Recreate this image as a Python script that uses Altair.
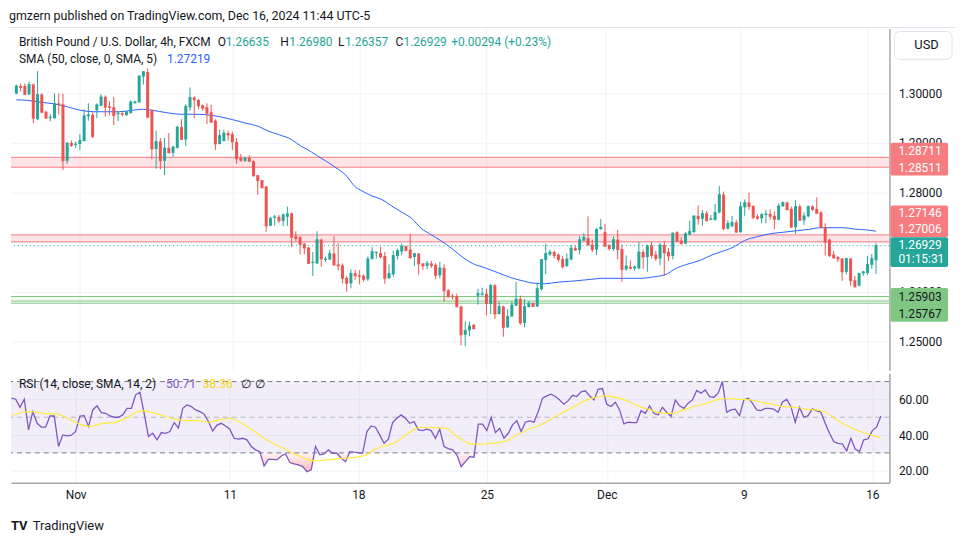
import altair as alt
import pandas as pd

# ---------------- data ----------------
opens = [1.3000,1.3015,1.3015,1.2998,1.3018,1.2948,1.2998,1.2963,1.2950,1.2950,
1.2980,1.2978,1.2864,1.2900,1.2896,1.2898,1.2904,1.2954,1.2957,1.2966,
1.2975,1.2993,1.2974,1.2972,1.2958,1.2960,1.2956,1.2960,1.2980,1.2982,
1.3034,1.3043,1.2966,1.2888,1.2903,1.2864,1.2890,1.2880,1.2890,1.2932,
1.2907,1.2972,1.2992,1.2987,1.2976,1.2972,1.2962,1.2945,1.2898,1.2904,
1.2920,1.2918,1.2902,1.2870,1.2864,1.2870,1.2863,1.2835,1.2825,1.2812,
1.2733,1.2749,1.2751,1.2743,1.2751,1.2758,1.2712,1.2710,1.2697,1.2689,
1.2658,1.2657,1.2705,1.2664,1.2665,1.2677,1.2655,1.2653,1.2628,1.2617,
1.2637,1.2633,1.2632,1.2625,1.2666,1.2678,1.2678,1.2672,1.2627,1.2635,
1.2672,1.2681,1.2692,1.2685,1.2670,1.2677,1.2657,1.2652,1.2657,1.2654,
1.2633,1.2648,1.2603,1.2592,1.2591,1.2570,1.2513,1.2522,1.2533,1.2592,
1.2594,1.2596,1.2575,1.2613,1.2555,1.2570,1.2528,1.2550,1.2572,1.2585,
1.2537,1.2569,1.2577,1.2570,1.2605,1.2664,1.2675,1.2680,1.2675,1.2666,
1.2652,1.2665,1.2688,1.2684,1.2703,1.2708,1.2695,1.2685,1.2726,1.2720,
1.2694,1.2686,1.2705,1.2686,1.2645,1.2650,1.2647,1.2647,1.2680,1.2670,
1.2693,1.2675,1.2667,1.2694,1.2680,1.2672,1.2720,1.2703,1.2697,1.2715,
1.2720,1.2753,1.2747,1.2758,1.2745,1.2745,1.2760,1.2796,1.2727,1.2732,
1.2740,1.2720,1.2770,1.2780,1.2773,1.2752,1.2748,1.2755,1.2757,1.2753,
1.2745,1.2772,1.2780,1.2767,1.2730,1.2772,1.2744,1.2752,1.2772,1.2767,
1.2760,1.2730,1.2705,1.2675,1.2670,1.2667,1.2640,1.2667,1.2623,1.2612,
1.2637,1.2638,1.2654,1.26635]

highs = [1.3018,1.3020,1.3020,1.3024,1.3020,1.3045,1.3000,1.2965,1.2958,1.3000,
1.3000,1.2999,1.2901,1.2905,1.2903,1.2918,1.2968,1.2980,1.2962,1.2980,
1.2999,1.2996,1.2984,1.2993,1.2964,1.2962,1.2965,1.2986,1.2985,1.3037,
1.3045,1.3050,1.2968,1.2925,1.2910,1.2910,1.2920,1.2894,1.2935,1.2948,
1.2978,1.3012,1.2994,1.2988,1.2978,1.2980,1.2977,1.2948,1.2927,1.2927,
1.2925,1.2923,1.2910,1.2878,1.2872,1.2875,1.2865,1.2835,1.2825,1.2813,
1.2751,1.2755,1.2755,1.2758,1.2772,1.2760,1.2722,1.2712,1.2698,1.2690,
1.2680,1.2722,1.2707,1.2671,1.2685,1.2712,1.2698,1.2657,1.2632,1.2645,
1.2644,1.2643,1.2635,1.2671,1.2690,1.2680,1.2690,1.2680,1.2655,1.2683,
1.2687,1.2697,1.2693,1.2717,1.2677,1.2678,1.2657,1.2662,1.2662,1.2658,
1.2660,1.2655,1.2605,1.2596,1.2596,1.2572,1.2540,1.2540,1.2535,1.2606,
1.2608,1.2606,1.2615,1.2615,1.2580,1.2572,1.2565,1.2581,1.2620,1.2592,
1.2585,1.2581,1.2578,1.2618,1.2666,1.2697,1.2685,1.2683,1.2677,1.2672,
1.2677,1.2695,1.2693,1.2712,1.2718,1.2752,1.2705,1.2728,1.2747,1.2737,
1.2696,1.2712,1.2725,1.2695,1.2673,1.2663,1.2653,1.2700,1.2685,1.2695,
1.2700,1.2682,1.2698,1.2702,1.2688,1.2720,1.2722,1.2710,1.2720,1.2743,
1.2753,1.2774,1.2765,1.2763,1.2755,1.2777,1.2813,1.2802,1.2744,1.2753,
1.2745,1.2782,1.2786,1.2800,1.2774,1.2756,1.2758,1.2765,1.2766,1.2762,
1.2778,1.2782,1.2782,1.2772,1.2784,1.2776,1.2760,1.2774,1.2774,1.2790,
1.2763,1.2738,1.2707,1.2682,1.2672,1.2667,1.2668,1.2667,1.2632,1.2638,
1.2642,1.2672,1.2676,1.26980]

lows = [1.2998,1.3004,1.2997,1.2997,1.2940,1.2946,1.2960,1.2949,1.2944,1.2949,
1.2958,1.2846,1.2858,1.2892,1.2890,1.2886,1.2903,1.2945,1.2910,1.2950,
1.2974,1.2953,1.2956,1.2936,1.2944,1.2954,1.2955,1.2960,1.2980,1.2981,
1.3018,1.2950,1.2867,1.2848,1.2847,1.2835,1.2879,1.2872,1.2889,1.2906,
1.2894,1.2965,1.2950,1.2968,1.2965,1.2938,1.2941,1.2886,1.2897,1.2903,
1.2905,1.2886,1.2858,1.2862,1.2862,1.2862,1.2832,1.2796,1.2808,1.2721,
1.2732,1.2733,1.2738,1.2732,1.2733,1.2690,1.2702,1.2675,1.2676,1.2656,
1.2632,1.2656,1.2650,1.2660,1.2664,1.2652,1.2643,1.2617,1.2600,1.2607,
1.2624,1.2615,1.2620,1.2622,1.2665,1.2667,1.2667,1.2616,1.2626,1.2630,
1.2665,1.2674,1.2682,1.2667,1.2652,1.2634,1.2644,1.2645,1.2648,1.2625,
1.2627,1.2580,1.2588,1.2584,1.2568,1.2492,1.2490,1.2510,1.2524,1.2574,
1.2592,1.2552,1.2555,1.2545,1.2554,1.2509,1.2527,1.2549,1.2571,1.2533,
1.2528,1.2568,1.2570,1.2569,1.2602,1.2635,1.2672,1.2667,1.2660,1.2647,
1.2650,1.2663,1.2682,1.2675,1.2702,1.2693,1.2680,1.2674,1.2725,1.2690,
1.2683,1.2682,1.2665,1.2620,1.2642,1.2645,1.2642,1.2645,1.2646,1.2640,
1.2667,1.2662,1.2653,1.2632,1.2662,1.2665,1.2700,1.2695,1.2696,1.2714,
1.2719,1.2735,1.2733,1.2742,1.2745,1.2743,1.2758,1.2724,1.2726,1.2730,
1.2719,1.2719,1.2753,1.2765,1.2746,1.2745,1.2738,1.2738,1.2745,1.2726,
1.2744,1.2772,1.2765,1.2729,1.2716,1.2743,1.2735,1.2750,1.2763,1.2757,
1.2728,1.2673,1.2670,1.2667,1.2660,1.2622,1.2635,1.2612,1.2608,1.2611,
1.2632,1.2633,1.2646,1.26357]

closes = [1.3015,1.3012,1.2998,1.3018,1.2950,1.2998,1.2962,1.2950,1.2952,1.2980,
1.2977,1.2864,1.2900,1.2895,1.2898,1.2905,1.2955,1.2957,1.2913,1.2977,
1.2993,1.2972,1.2972,1.2955,1.2960,1.2958,1.2963,1.2983,1.2983,1.3035,
1.3044,1.2952,1.2888,1.2903,1.2864,1.2890,1.2880,1.2892,1.2932,1.2907,
1.2974,1.2992,1.2987,1.2975,1.2970,1.2960,1.2942,1.2898,1.2915,1.2920,
1.2916,1.2902,1.2868,1.2865,1.2870,1.2863,1.2834,1.2824,1.2810,1.2733,
1.2748,1.2751,1.2743,1.2755,1.2757,1.2710,1.2707,1.2695,1.2688,1.2657,
1.2660,1.2705,1.2666,1.2666,1.2677,1.2654,1.2652,1.2627,1.2617,1.2637,
1.2632,1.2631,1.2625,1.2666,1.2681,1.2680,1.2670,1.2627,1.2637,1.2673,
1.2683,1.2692,1.2683,1.2668,1.2677,1.2656,1.2652,1.2657,1.2653,1.2633,
1.2648,1.2602,1.2590,1.2590,1.2570,1.2513,1.2522,1.2531,1.2525,1.2596,
1.2596,1.2576,1.2613,1.2555,1.2570,1.2528,1.2550,1.2573,1.2585,1.2537,
1.2570,1.2577,1.2570,1.2606,1.2665,1.2677,1.2680,1.2673,1.2665,1.2650,
1.2666,1.2688,1.2684,1.2705,1.2710,1.2694,1.2685,1.2726,1.2730,1.2692,
1.2687,1.2705,1.2685,1.2645,1.2652,1.2647,1.2650,1.2680,1.2670,1.2693,
1.2673,1.2667,1.2694,1.2678,1.2672,1.2718,1.2702,1.2697,1.2717,1.2722,
1.2753,1.2747,1.2758,1.2743,1.2747,1.2760,1.2796,1.2727,1.2738,1.2740,
1.2720,1.2772,1.2780,1.2772,1.2750,1.2748,1.2756,1.2757,1.2752,1.2746,
1.2773,1.2780,1.2765,1.2730,1.2772,1.2744,1.2753,1.2772,1.2766,1.2758,
1.2730,1.2700,1.2673,1.2668,1.2666,1.2640,1.2667,1.2622,1.2610,1.2637,
1.2640,1.2655,1.2667,1.26929]

rsi_values = [60.7,60.1,55.6,60.1,42.9,53.2,46.6,44.4,44.4,50.7,
50.7,33.6,40.1,39.5,39.9,42.0,50.7,50.9,44.8,54.1,
56.4,52.6,52.2,50.7,50.0,50.0,51.3,55.0,55.0,62.5,
64.0,52.0,39.2,41.0,37.3,41.4,41.0,42.0,47.0,44.0,
55.0,56.9,56.0,54.1,53.2,51.7,47.6,42.3,45.6,46.6,
45.1,43.3,38.2,37.7,38.2,37.3,33.6,31.7,30.7,22.7,
26.4,26.4,26.1,28.3,29.4,24.6,23.8,23.3,22.3,19.5,
20.5,33.6,28.9,29.4,31.7,29.8,29.8,27.0,25.1,30.7,
30.4,30.2,29.8,42.0,45.1,44.4,40.1,35.4,37.7,47.0,
49.4,51.3,49.4,46.6,47.6,42.9,42.5,43.3,42.5,38.2,
43.3,33.6,32.4,31.7,28.9,22.3,25.1,27.9,27.6,46.1,
46.1,42.5,50.0,41.4,43.8,38.2,41.0,45.7,48.1,42.0,
47.2,47.9,47.2,53.2,60.7,62.0,62.9,61.6,59.7,57.3,
59.3,62.3,61.6,64.2,64.8,62.0,59.7,65.7,66.1,57.3,
56.0,58.4,54.1,46.3,47.2,47.0,47.0,53.6,52.2,56.4,
52.2,51.3,55.6,52.8,50.4,59.7,56.4,55.0,57.9,59.7,
65.0,63.5,65.3,61.6,61.2,63.5,70.0,52.8,54.1,54.5,
50.9,59.7,60.7,57.9,54.1,53.7,55.0,55.0,54.5,52.8,
58.4,60.1,56.0,47.2,55.6,50.0,50.9,54.7,53.6,52.8,
46.6,41.0,36.4,35.4,35.0,31.1,38.2,32.1,30.7,37.3,
37.9,42.5,44.4,50.71]

sma_x = [0,2.7,5.8,8.9,12,15.1,18.2,21.2,24.3,27.4,29.7,32.1,35.6,38.7,41.8,44.9,48,51.1,54.2,57.3,
59.2,61.9,65,67.3,68.5,70.9,73.2,75.5,77.8,80.1,81.7,84,86.3,88.6,90.9,93.3,95.6,97.9,100.2,103,
105.3,107.7,110.7,113.8,116.9,120,122.3,124.7,127.7,130.8,135.9,138.3,142.9,147.5,150.6,153.7,155.3,158.3,161.4,164.5,
167.3,169.6,171.9,175,178.1,181.2,184.3,187.4,189.7,192.1,195.1,196.7,198.2,200.5,203]
sma_y = [1.2987,1.2986,1.2982,1.2979,1.2973,1.2966,1.2963,1.2963,1.2963,1.2966,1.2968,1.2966,1.2961,1.2958,1.2958,1.2957,1.2953,1.2947,1.2940,1.2933,
1.2925,1.2917,1.2907,1.2893,1.2888,1.2875,1.2863,1.2850,1.2835,1.2811,1.2803,1.2793,1.2786,1.2773,1.2761,1.2748,1.2728,1.2715,1.2703,1.2686,
1.2670,1.2657,1.2648,1.2638,1.2628,1.2621,1.2617,1.2616,1.2619,1.2621,1.2625,1.2627,1.2627,1.2627,1.2630,1.2636,1.2645,1.2655,1.2663,1.2675,
1.2683,1.2691,1.2703,1.2711,1.2717,1.2720,1.2723,1.2726,1.2729,1.2729,1.2729,1.2728,1.2726,1.2725,1.27219]

rsi_sma_x = [0,2.7,4.6,7.3,10.4,13.1,15.8,18.5,21.2,24,26.7,29,30.5,33.6,37.5,40.6,43.7,46,49.1,51.4,
53.7,56.8,59.9,63,66.1,69.2,70.7,73.8,76.9,80.8,82.7,84.6,86.9,89.3,91.6,93.9,95.4,98.5,101.6,103.6,
105.6,107.5,110.6,112.1,115.2,117.5,120.6,123,126,129.1,131.5,133.8,136.1,138.4,141.5,143.8,146.1,149.2,152.3,154.6,
157,159.3,162.4,164.7,167,169.3,172.4,175.5,177.8,180.1,183.2,185.5,187.9,189.8,192.5,194.8,197.9,200.2,203]
rsi_sma_y = [50.7,52.8,53.2,52.2,51.9,49.4,46.3,44.8,46.6,47.0,49.4,52.6,53.7,52.2,49.4,48.1,48.1,47.2,48.9,49.3,
46.6,42.0,36.9,33.2,29.4,26.4,25.5,26.1,26.8,27.6,28.9,31.7,33.9,35.4,39.2,42.9,44.4,44.2,43.8,40.1,
36.9,34.9,35.0,35.4,36.4,39.2,43.3,45.1,48.9,53.2,56.0,59.2,61.0,62.0,61.0,59.2,56.5,54.1,52.2,52.2,
54.1,56.0,57.9,59.7,60.5,60.1,59.7,58.2,57.3,56.0,55.6,54.5,54.1,53.2,48.9,45.7,42.3,40.5,38.36]

tick_index = [15, 51, 81, 111, 139, 171, 201]
tick_text = ["Nov", "11", "18", "25", "Dec", "9", "16"]
price_ticks = [1.25, 1.26, 1.27, 1.28, 1.29, 1.30]
hidden_price_labels = [1.27]
rsi_ticks = [20, 40, 60]
red_zone_low = [1.28511, 1.27006]
red_zone_high = [1.28711, 1.27146]
green_zone_low = [1.25810]
green_zone_high = [1.25903]
green_lines = [1.25903, 1.25810, 1.25767]
last_price = [1.26929]
rsi_outer_levels = [70, 30]
rsi_mid_level = [50]

# ---------------- layout constants ----------------
FONT = "Roboto"
DARK = "#131722"
UP = "#26a69a"
DOWN = "#ef5350"
W = 884
H_MAIN = 344
H_RSI = 110
GRID = "#f0f3fa"

n = len(closes)
candles = pd.DataFrame({"i": list(range(n)), "open": opens, "high": highs,
                        "low": lows, "close": closes})
candles["dir"] = ["up" if c >= o else "down" for o, c in zip(opens, closes)]
rsi_df = pd.DataFrame({"i": list(range(n)), "rsi": rsi_values})
sma_df = pd.DataFrame({"i": sma_x, "v": sma_y})
rsi_sma_df = pd.DataFrame({"i": rsi_sma_x, "v": rsi_sma_y})
red_df = pd.DataFrame({"lo": red_zone_low, "hi": red_zone_high})
red_lines_df = pd.DataFrame({"y": red_zone_low + red_zone_high})
green_df = pd.DataFrame({"lo": green_zone_low, "hi": green_zone_high})
green_lines_df = pd.DataFrame({"y": green_lines})
last_df = pd.DataFrame({"y": last_price})

xscale = alt.Scale(domain=[-0.1, 205.0], nice=False, zero=False)
yscale = alt.Scale(domain=[1.24412, 1.31309], nice=False, zero=False)
rscale = alt.Scale(domain=[13.3, 74.6], nice=False, zero=False)

hide_expr = " || ".join(f"abs(datum.value - {v}) < 0.0001" for v in hidden_price_labels)
x_main_axis = alt.Axis(values=tick_index, labels=False, ticks=False, domain=False,
                       grid=True, gridColor=GRID, title=None)
y_main_axis = alt.Axis(orient="right", values=price_ticks, format=".5f", grid=True,
                       gridColor=GRID, ticks=False, domain=True, domainColor="#787b86",
                       labelPadding=9, labelAlign="left", labelFont=FONT, labelFontSize=12,
                       labelColor=DARK, title=None, labelFlush=False,
                       labelExpr=f"({hide_expr}) ? '' : format(datum.value, '.5f')")

expr = "".join(f"datum.value == {v} ? '{t}' : " for v, t in zip(tick_index, tick_text)) + "''"
x_rsi_axis = alt.Axis(values=tick_index, labelExpr=expr, grid=True, gridColor=GRID,
                      ticks=False, domain=True, domainColor="#787b86", labelPadding=7,
                      labelFont=FONT, labelFontSize=12, labelColor=DARK, title=None,
                      labelFlush=False)
y_rsi_axis = alt.Axis(orient="right", values=rsi_ticks, format=".2f", grid=True,
                      gridColor=GRID, ticks=False, domain=True, domainColor="#787b86",
                      labelPadding=9, labelAlign="left", labelFont=FONT, labelFontSize=12,
                      labelColor=DARK, title=None)

X = alt.X("i:Q", scale=xscale, axis=x_main_axis)
color = alt.Color("dir:N", scale=alt.Scale(domain=["up", "down"], range=[UP, DOWN]), legend=None)


def label(text, x, y, col=DARK, size=12, align="left", weight="normal", baseline="middle"):
    return alt.Chart(pd.DataFrame({"t": [text]})).mark_text(
        align=align, baseline=baseline, font=FONT, fontSize=size, color=col,
        fontWeight=weight).encode(text="t:N", x=alt.value(x), y=alt.value(y))


def box(x, x2, y, y2, fill, stroke=None, radius=0):
    kw = dict(fill=fill, cornerRadius=radius)
    if stroke:
        kw["stroke"] = stroke
        kw["strokeWidth"] = 1
    return alt.Chart(pd.DataFrame({"a": [0]})).mark_rect(**kw).encode(
        x=alt.value(x), x2=alt.value(x2), y=alt.value(y), y2=alt.value(y2))


# ---------------- main price pane ----------------
frame_top = alt.Chart(pd.DataFrame({"a": [0]})).mark_rule(color="#e0e3eb", strokeWidth=1).encode(
    x=alt.value(-2), x2=alt.value(950), y=alt.value(-1))
red_zone = alt.Chart(red_df).mark_rect(color="#f23645", opacity=0.13).encode(
    y=alt.Y("lo:Q", scale=yscale, axis=y_main_axis), y2="hi:Q",
    x=alt.value(0), x2=alt.value(W))
red_lines = alt.Chart(red_lines_df).mark_rule(color="#f77c80", strokeWidth=1).encode(
    y=alt.Y("y:Q", scale=yscale, axis=y_main_axis))
green_zone = alt.Chart(green_df).mark_rect(color="#4caf50", opacity=0.08).encode(
    y=alt.Y("lo:Q", scale=yscale, axis=y_main_axis), y2="hi:Q",
    x=alt.value(0), x2=alt.value(W))
green_rules = alt.Chart(green_lines_df).mark_rule(color="#81c784", strokeWidth=1).encode(
    y=alt.Y("y:Q", scale=yscale, axis=y_main_axis))
sma_line = alt.Chart(sma_df).mark_line(color="#2962ff", strokeWidth=1, interpolate="monotone").encode(
    x=X, y=alt.Y("v:Q", scale=yscale, axis=y_main_axis))
wicks = alt.Chart(candles).mark_rule(strokeWidth=1).encode(
    x=X, y=alt.Y("low:Q", scale=yscale, axis=y_main_axis), y2="high:Q", color=color)
bodies = alt.Chart(candles).mark_bar(size=3).encode(
    x=X, y=alt.Y("open:Q", scale=yscale, axis=y_main_axis), y2="close:Q", color=color)
body_min = alt.Chart(candles).mark_tick(orient="horizontal", size=3, thickness=1).encode(
    x=X, y=alt.Y("close:Q", scale=yscale, axis=y_main_axis), color=color)
last_line = alt.Chart(last_df).mark_rule(color=UP, strokeWidth=1, strokeDash=[1, 3]).encode(
    y=alt.Y("y:Q", scale=yscale, axis=y_main_axis))

texts_main = [
    label("gmzern published on TradingView.com, Dec 16, 2024 11:44 UTC-5", -2, -19, DARK, 12.5, baseline="top"),
    label("British Pound / U.S. Dollar, 4h, FXCM", 8, 14),
    label("O", 208, 14), label("1.26635", 216, 14, UP),
    label("H", 271, 14), label("1.26980", 280, 14, UP),
    label("L", 329, 14), label("1.26357", 336, 14, UP),
    label("C", 387, 14), label("1.26929", 395, 14, UP),
    label("+0.00294 (+0.23%)", 443, 14, UP),
    label("SMA (50, close, 0, SMA, 5)", 8, 31),
    label("1.27219", 157, 31, "#2962ff"),
]

BX0, BX1 = 885, 943
boxes_main = [
    box(889, 947, 3, 31, "white", stroke="#e0e3eb", radius=5),
    label("USD", 909, 17, DARK, 13),
    box(BX0, BX1, 115, 148, "#f77c80", radius=2),
    label("1.28711", 893, 123, "white"), label("1.28511", 893, 140, "white"),
    box(BX0, BX1, 178, 210, "#f77c80", radius=2),
    label("1.27146", 893, 186, "white"), label("1.27006", 893, 202, "white"),
    box(BX0, BX1, 210, 240, UP, radius=2),
    label("1.26929", 893, 218, "white"), label("01:15:31", 893, 232, "white"),
    box(BX0, BX1, 261, 295, "#81c784", radius=2),
    label("1.25903", 893, 270, DARK), label("1.25767", 893, 287, DARK),
]

main = alt.layer(frame_top, red_zone, green_zone, red_lines, green_rules, sma_line, wicks, bodies,
                 body_min, last_line, *texts_main, *boxes_main).properties(width=W, height=H_MAIN)

# ---------------- RSI pane ----------------
XR = alt.X("i:Q", scale=xscale, axis=x_rsi_axis)
band = alt.Chart(pd.DataFrame({"lo": [30], "hi": [70]})).mark_rect(color="#7e57c2", opacity=0.1).encode(
    y=alt.Y("lo:Q", scale=rscale, axis=y_rsi_axis), y2="hi:Q", x=alt.value(0), x2=alt.value(W))
outer = alt.Chart(pd.DataFrame({"y": rsi_outer_levels})).mark_rule(
    color="#787b86", strokeWidth=1, strokeDash=[5, 4]).encode(y=alt.Y("y:Q", scale=rscale, axis=y_rsi_axis))
mid = alt.Chart(pd.DataFrame({"y": rsi_mid_level})).mark_rule(
    color="#787b86", strokeWidth=1, strokeDash=[5, 4], opacity=0.5).encode(
    y=alt.Y("y:Q", scale=rscale, axis=y_rsi_axis))
oversold = alt.Chart(rsi_df).transform_calculate(lo="min(datum.rsi, 30)").mark_area(
    fill=alt.Gradient(gradient="linear", x1=0, x2=0, y1=0, y2=1,
                      stops=[alt.GradientStop(color="rgba(242,54,69,0.05)", offset=0),
                             alt.GradientStop(color="rgba(242,54,69,0.35)", offset=1)])).encode(
    x=XR, y=alt.Y("lo:Q", scale=rscale, axis=y_rsi_axis), y2=alt.Y2(datum=30))
rsi_line = alt.Chart(rsi_df).mark_line(color="#7e57c2", strokeWidth=1.3).encode(
    x=XR, y=alt.Y("rsi:Q", scale=rscale, axis=y_rsi_axis))
rsi_sma_line = alt.Chart(rsi_sma_df).mark_line(color="#ffeb3b", strokeWidth=1.2, interpolate="monotone").encode(
    x=XR, y=alt.Y("v:Q", scale=rscale, axis=y_rsi_axis))

texts_rsi = [
    label("RSI (14, close, SMA, 14, 2)", 8, 11),
    label("50.71", 156, 11, "#7e57c2"),
    label("38.36", 193, 11, "#f5d90a"),
    label("\u2205", 231, 11), label("\u2205", 246, 11),
    label("TV", 0, 154, DARK, 13, weight="bold"),
    label("TradingView", 22, 154, DARK, 13),
]

rsi_chart = alt.layer(band, outer, mid, oversold, rsi_line, rsi_sma_line, *texts_rsi).properties(
    width=W, height=H_RSI)

chart = alt.vconcat(main, rsi_chart, spacing=3).properties(
    padding={"left": 0, "top": 0, "right": 6, "bottom": 4}, background="white"
).configure_view(stroke=None)

chart.save("out.html", embed_options={"renderer": "svg", "actions": False})
